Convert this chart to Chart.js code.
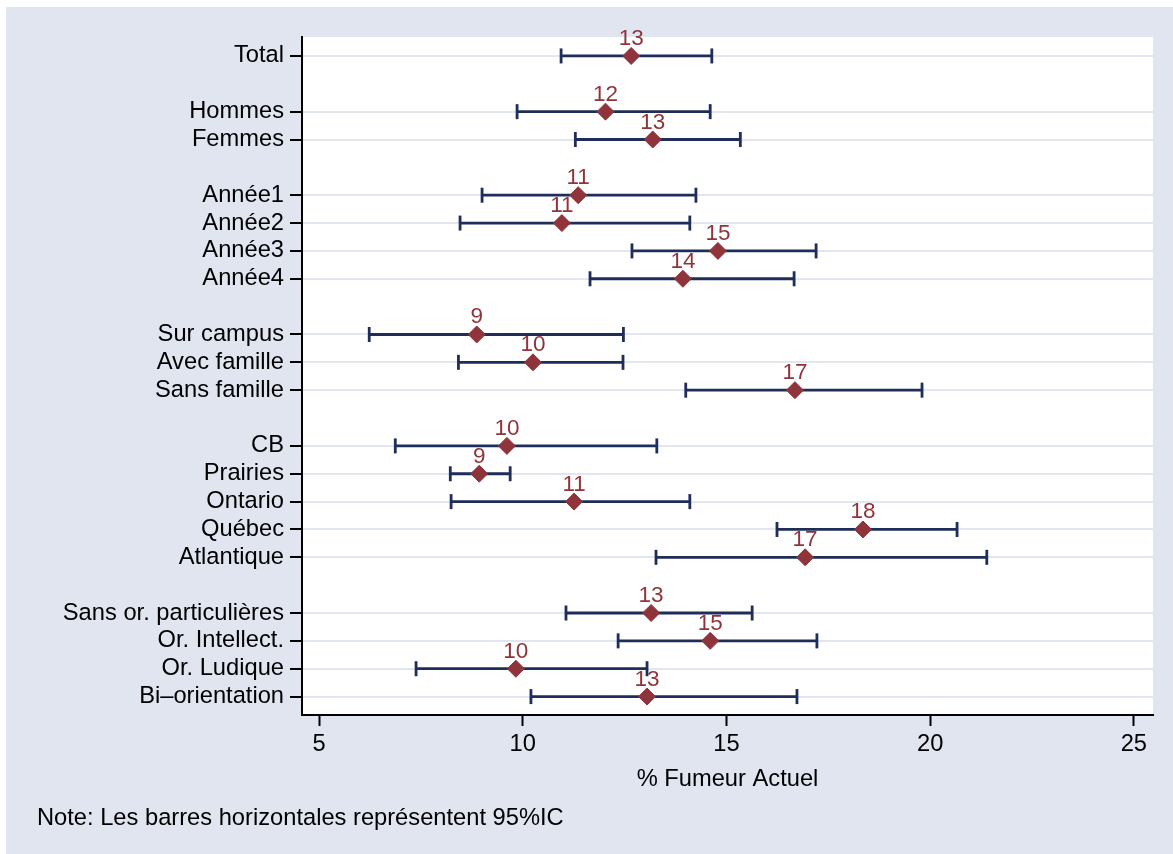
<!DOCTYPE html>
<html>
<head>
<meta charset="utf-8">
<script src="https://cdn.jsdelivr.net/npm/chart.js@4.4.0/dist/chart.umd.min.js"></script>
<style>
  html, body { margin: 0; padding: 0; background: #ffffff; }
  #wrap { position: relative; width: 1173px; height: 854px; }
</style>
</head>
<body>
<div id="wrap"><canvas id="c" width="1173" height="854"></canvas></div>
<script>
// Row slots (empty strings are spacer rows between groups)
const categories = ["Total", "", "Hommes", "Femmes", "", "Année1", "Année2", "Année3", "Année4", "",
  "Sur campus", "Avec famille", "Sans famille", "", "CB", "Prairies", "Ontario", "Québec", "Atlantique", "",
  "Sans or. particulières", "Or. Intellect.", "Or. Ludique", "Bi–orientation"];

// Values for the non-empty rows, in order
const estimates = [12.66, 12.03, 13.19, 11.36, 10.96, 14.79, 13.93, 8.87, 10.25, 16.68,
  9.61, 8.93, 11.26, 18.35, 16.93, 13.15, 14.60, 9.83, 13.05];
const ciLow = [10.94, 9.86, 11.29, 9.00, 8.46, 12.68, 11.65, 6.23, 8.42, 14.00,
  6.87, 8.22, 8.24, 16.24, 13.27, 11.06, 12.34, 7.38, 10.20];
const ciHigh = [14.64, 14.60, 15.34, 14.25, 14.10, 17.20, 16.66, 12.47, 12.46, 19.80,
  13.29, 9.69, 14.10, 20.66, 21.39, 15.63, 17.22, 13.05, 16.73];
const valueLabels = ["13", "12", "13", "11", "11", "15", "14", "9", "10", "17",
  "10", "9", "11", "18", "17", "13", "15", "10", "13"];

const xTicks = [5, 10, 15, 20, 25];
const xTitle = "% Fumeur Actuel";
const note = "Note: Les barres horizontales représentent 95%IC";

const FONT = "'Liberation Sans', Arial, Helvetica, sans-serif";
const FS = 23.7;
const NAVY = "#1e2d5a";
const MAROON = "#8f343b";
const BG = "#e0e5f0";
const GRID = "#e2e6f1";

const rowSlots = [];
categories.forEach((c, i) => { if (c !== "") rowSlots.push(i); });

const datasets = [];
rowSlots.forEach((slot, i) => {
  datasets.push({
    type: 'line',
    data: [{x: ciLow[i], y: slot}, {x: ciHigh[i], y: slot}],
    borderColor: NAVY,
    borderWidth: 2.8,
    pointStyle: 'line',
    pointRotation: 90,
    pointRadius: 7.5,
    pointHoverRadius: 7.5,
    pointBorderColor: NAVY,
    pointBorderWidth: 2.8,
    fill: false,
    order: 2
  });
});
datasets.push({
  type: 'scatter',
  data: rowSlots.map((slot, i) => ({x: estimates[i], y: slot})),
  pointStyle: 'rectRot',
  pointRadius: 8.5,
  pointHoverRadius: 8.5,
  backgroundColor: MAROON,
  borderColor: MAROON,
  borderWidth: 1,
  order: 1,
  isEstimate: true
});

const bgPlugin = {
  id: 'bg',
  beforeDraw(chart) {
    const {ctx, chartArea} = chart;
    ctx.save();
    ctx.fillStyle = '#ffffff';
    ctx.fillRect(0, 0, chart.width, chart.height);
    ctx.fillStyle = BG;
    ctx.fillRect(6, 7, chart.width - 6, chart.height - 7);
    ctx.fillStyle = '#ffffff';
    ctx.fillRect(chartArea.left, chartArea.top, chartArea.right - chartArea.left, chartArea.bottom - chartArea.top);
    ctx.restore();
  }
};

const labelPlugin = {
  id: 'valueLabels',
  afterDatasetsDraw(chart) {
    const {ctx} = chart;
    const idx = chart.data.datasets.findIndex(d => d.isEstimate);
    const meta = chart.getDatasetMeta(idx);
    ctx.save();
    ctx.font = "22.5px " + FONT;
    ctx.fillStyle = MAROON;
    ctx.textAlign = 'center';
    ctx.textBaseline = 'alphabetic';
    meta.data.forEach((pt, i) => {
      ctx.fillText(valueLabels[i], pt.x, pt.y - 11);
    });
    ctx.restore();
  }
};

new Chart(document.getElementById('c'), {
  data: { datasets },
  options: {
    responsive: false,
    animation: false,
    devicePixelRatio: 1,
    layout: { padding: { left: 37, top: 37, right: 20, bottom: 0 } },
    plugins: {
      legend: { display: false },
      tooltip: { enabled: false },
      title: {
        display: true,
        position: 'bottom',
        align: 'start',
        text: note,
        color: '#000',
        font: { family: FONT, size: FS, weight: 'normal', lineHeight: 1.2 },
        padding: { top: 0, bottom: 21 }
      }
    },
    scales: {
      x: {
        type: 'linear',
        position: 'bottom',
        min: 4.58,
        max: 25.47,
        afterBuildTicks: (scale) => { scale.ticks = xTicks.map(v => ({value: v})); },
        afterFit: (scale) => { scale.height = 89.6; },
        ticks: { color: '#000', font: { family: FONT, size: FS }, padding: 4, maxRotation: 0 },
        grid: { drawOnChartArea: false, drawTicks: true, tickLength: 11, tickColor: '#000', tickWidth: 2 },
        border: { display: true, color: '#000', width: 2 },
        title: { display: true, text: xTitle, color: '#000', font: { family: FONT, size: FS }, padding: { top: 0, bottom: 11 } }
      },
      y: {
        type: 'linear',
        position: 'left',
        reverse: true,
        min: -0.68,
        max: 23.66,
        afterBuildTicks: (scale) => { scale.ticks = rowSlots.map(v => ({value: v})); },
        afterFit: (scale) => { scale.width = 265; },
        ticks: {
          color: '#000',
          font: { family: FONT, size: FS },
          padding: 6,
          autoSkip: false,
          callback: (v) => categories[v]
        },
        grid: { color: GRID, lineWidth: 2, drawTicks: true, tickLength: 12, tickColor: '#000', tickWidth: 2 },
        border: { display: true, color: '#000', width: 2 }
      }
    }
  },
  plugins: [bgPlugin, labelPlugin]
});
</script>
</body>
</html>
